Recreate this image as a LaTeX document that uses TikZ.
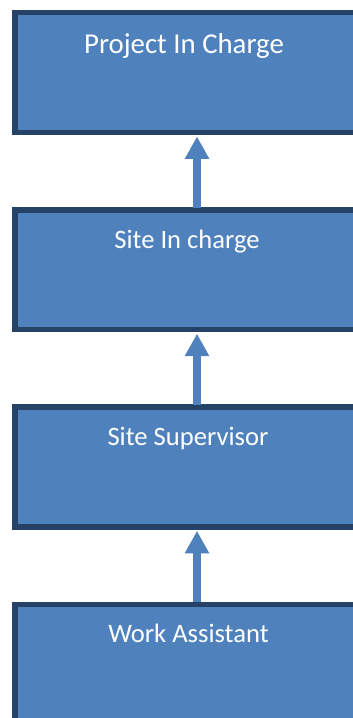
\documentclass[tikz,border=0pt]{standalone}
\usepackage{fontspec}
\setmainfont{Carlito}
\usetikzlibrary{arrows.meta}
\definecolor{boxfill}{HTML}{4F81BD}
\definecolor{boxline}{HTML}{264266}
\tikzset{
  rolebox/.style={draw=boxline, fill=boxfill, line width=5.5pt, rectangle,
    minimum width=346pt, minimum height=119.7pt, inner sep=0pt},
  rolelabel/.style={anchor=base, text=white, inner sep=0pt},
  upflow/.style={draw=boxfill, line width=8pt,
    -{Triangle[width=23pt,length=22.5pt]}}
}
\begin{document}
\begin{tikzpicture}[x=1pt, y=-1pt]
  \useasboundingbox (0,0) rectangle (353,718);
  % the four levels of the hierarchy, top to bottom
  \node[rolebox] (pic) at (188, 72.55) {};
  \node[rolebox] (sic) at (188, 269.75) {};
  \node[rolebox] (ss)  at (188, 466.95) {};
  \node[rolebox] (wa)  at (188, 664.15) {};
  % titles
  \node[rolelabel, font=\fontsize{28.8}{34}\selectfont] (tpic) at (184, 53.3) {Project In Charge};
  \node[rolelabel, font=\fontsize{26.6}{31}\selectfont] (tsic) at (187, 248.7) {Site In charge};
  \node[rolelabel, font=\fontsize{26.6}{31}\selectfont] (tss)  at (188, 445.3) {Site Supervisor};
  \node[rolelabel, font=\fontsize{26.6}{31}\selectfont] (twa)  at (188.5, 642.3) {Work Assistant};
  % reporting arrows
  \draw[upflow] ([xshift=9pt, yshift=-0.5pt]sic.north) -- ([xshift=9pt, yshift=-1.3pt]pic.south);
  \draw[upflow] ([xshift=9pt, yshift=-0.5pt]ss.north)  -- ([xshift=9pt, yshift=-1.3pt]sic.south);
  \draw[upflow] ([xshift=9pt, yshift=-0.5pt]wa.north)  -- ([xshift=9pt, yshift=-1.3pt]ss.south);
\end{tikzpicture}
\end{document}
